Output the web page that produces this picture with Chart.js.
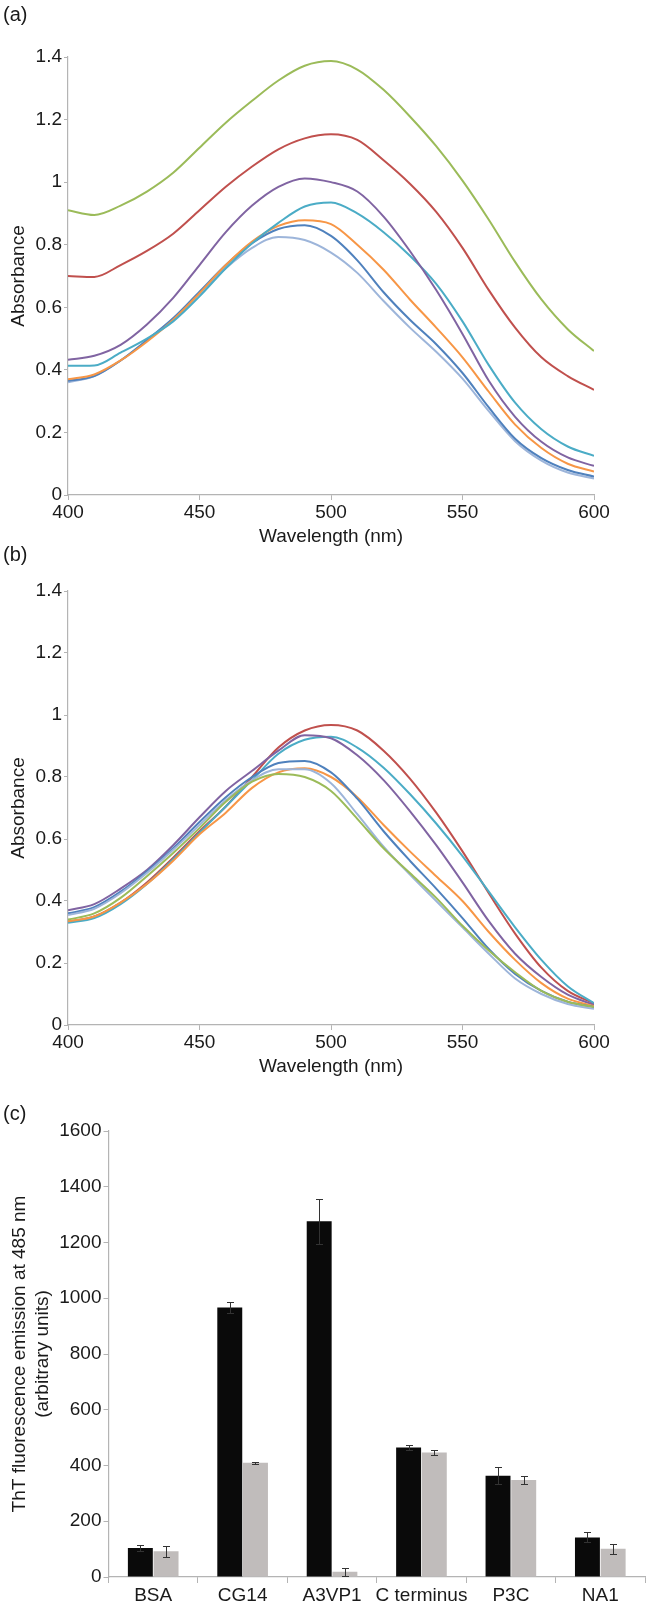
<!DOCTYPE html>
<html>
<head>
    <title>Absorbance spectra and ThT fluorescence</title>
    <script src="https://cdn.jsdelivr.net/npm/chart.js"></script>
    <style>
        body {
            margin: 0;
            background: #fff;
            font-family: "Liberation Sans", Arial, sans-serif;
        }
        .panel {
            position: absolute;
            left: 0;
        }
        .tag {
            position: absolute;
            left: 3px;
            font-size: 20px;
            color: #1a1a1a;
        }
    </style>
</head>
<body>
    <canvas id="chartA" class="panel" style="top:0" width="646" height="550"></canvas>
    <canvas id="chartB" class="panel" style="top:540px" width="646" height="540"></canvas>
    <canvas id="chartC" class="panel" style="top:1090px" width="646" height="517"></canvas>
    <div class="tag" style="top:3px">(a)</div>
    <div class="tag" style="top:543px">(b)</div>
    <div class="tag" style="top:1102px">(c)</div>

    <script>
        // wavelengths (nm) shared by both spectra panels
        const wavelengths = [400, 410, 420, 430, 440, 450, 460, 470, 480, 490, 500,
                             510, 520, 530, 540, 550, 560, 570, 580, 590, 600];

        // panel (a) absorbance
        const aBlue   = [0.365, 0.38, 0.43, 0.495, 0.565, 0.65, 0.735, 0.805, 0.85, 0.862, 0.828, 0.75, 0.648, 0.56, 0.482, 0.39, 0.28, 0.18, 0.118, 0.08, 0.059];
        const aRed    = [0.70, 0.697, 0.735, 0.78, 0.835, 0.91, 0.985, 1.05, 1.105, 1.14, 1.153, 1.135, 1.07, 0.995, 0.905, 0.79, 0.655, 0.535, 0.44, 0.38, 0.336];
        const aGreen  = [0.91, 0.895, 0.925, 0.97, 1.03, 1.11, 1.19, 1.26, 1.325, 1.372, 1.387, 1.36, 1.295, 1.21, 1.115, 1.005, 0.88, 0.745, 0.625, 0.53, 0.46];
        const aPurple = [0.432, 0.445, 0.48, 0.545, 0.63, 0.735, 0.84, 0.925, 0.985, 1.012, 1.0, 0.97, 0.89, 0.78, 0.655, 0.515, 0.365, 0.25, 0.17, 0.12, 0.093];
        const aTeal   = [0.413, 0.414, 0.455, 0.50, 0.555, 0.635, 0.725, 0.805, 0.87, 0.922, 0.935, 0.90, 0.84, 0.765, 0.675, 0.555, 0.415, 0.295, 0.21, 0.155, 0.125];
        const aOrange = [0.37, 0.385, 0.43, 0.49, 0.56, 0.645, 0.735, 0.81, 0.86, 0.878, 0.866, 0.80, 0.72, 0.625, 0.535, 0.44, 0.33, 0.225, 0.15, 0.10, 0.075];
        const aLight  = [0.36, 0.38, 0.43, 0.495, 0.565, 0.645, 0.725, 0.79, 0.825, 0.815, 0.775, 0.71, 0.62, 0.535, 0.458, 0.372, 0.268, 0.172, 0.11, 0.072, 0.053];

        // panel (b) absorbance
        const bBlue   = [0.36, 0.38, 0.43, 0.495, 0.57, 0.655, 0.735, 0.80, 0.845, 0.852, 0.815, 0.73, 0.625, 0.53, 0.44, 0.345, 0.245, 0.165, 0.11, 0.075, 0.058];
        const bRed    = [0.333, 0.35, 0.395, 0.46, 0.54, 0.625, 0.705, 0.80, 0.895, 0.95, 0.968, 0.95, 0.885, 0.795, 0.685, 0.56, 0.425, 0.295, 0.185, 0.11, 0.07];
        const bGreen  = [0.34, 0.36, 0.41, 0.48, 0.555, 0.635, 0.72, 0.785, 0.81, 0.80, 0.755, 0.665, 0.57, 0.49, 0.41, 0.32, 0.24, 0.17, 0.11, 0.075, 0.058];
        const bPurple = [0.37, 0.39, 0.44, 0.50, 0.58, 0.67, 0.755, 0.82, 0.885, 0.935, 0.925, 0.87, 0.79, 0.69, 0.58, 0.46, 0.335, 0.23, 0.155, 0.098, 0.065];
        const bTeal   = [0.33, 0.345, 0.39, 0.455, 0.535, 0.62, 0.705, 0.79, 0.875, 0.92, 0.93, 0.895, 0.83, 0.745, 0.65, 0.545, 0.43, 0.315, 0.21, 0.125, 0.07];
        const bOrange = [0.335, 0.35, 0.395, 0.455, 0.53, 0.615, 0.685, 0.765, 0.815, 0.828, 0.80, 0.735, 0.645, 0.56, 0.48, 0.40, 0.30, 0.21, 0.135, 0.085, 0.061];
        const bLight  = [0.355, 0.375, 0.425, 0.49, 0.565, 0.645, 0.725, 0.79, 0.825, 0.825, 0.78, 0.68, 0.575, 0.485, 0.40, 0.315, 0.23, 0.15, 0.10, 0.068, 0.052];

        const absTicks = [0, 0.2, 0.4, 0.6, 0.8, 1, 1.2, 1.4];

        // panel (c) ThT fluorescence
        const proteins = ['BSA', 'CG14', 'A3VP1', 'C terminus', 'P3C', 'NA1'];
        const blackVals = [104, 967, 1276, 465, 363, 142];
        const blackErr  = [10, 20, 80, 8, 30, 18];
        const greyVals  = [92, 410, 19, 447, 348, 101];
        const greyErr   = [19, 3, 15, 10, 15, 17];

        Chart.defaults.font.family = '"Liberation Sans", Arial, sans-serif';
        Chart.defaults.font.size = 19;
        Chart.defaults.color = '#1a1a1a';

        const axisGrey = '#b4b4b4';

        const colours = {
            blue: '#4f81bd', red: '#c0504d', green: '#9bbb59', purple: '#8064a2',
            teal: '#4bacc6', orange: '#f79646', light: '#9db5da'
        };

        function lineSet(values, colour) {
            return {
                data: wavelengths.map((w, i) => ({x: w, y: values[i]})),
                borderColor: colour,
                borderWidth: 2,
                pointRadius: 0,
                cubicInterpolationMode: 'monotone',
                fill: false
            };
        }

        function spectrumChart(id, sets, padTop) {
            return new Chart(document.getElementById(id), {
                type: 'line',
                data: {datasets: sets},
                options: {
                    responsive: false,
                    animation: false,
                    events: [],
                    layout: {padding: {top: padTop, right: 52, left: 0, bottom: 0}},
                    plugins: {legend: {display: false}, tooltip: {enabled: false}},
                    scales: {
                        x: {
                            type: 'linear',
                            min: 400,
                            max: 600,
                            afterFit: s => { s.height = 55; },
                            ticks: {stepSize: 50, padding: 1},
                            grid: {drawOnChartArea: false, color: axisGrey, tickLength: 5},
                            border: {color: axisGrey, width: 1.2},
                            title: {display: true, text: 'Wavelength (nm)', padding: {top: 0, bottom: 2}}
                        },
                        y: {
                            min: 0,
                            max: 1.4,
                            afterFit: s => { s.width = 68; },
                            afterBuildTicks: s => { s.ticks = absTicks.map(v => ({value: v})); },
                            ticks: {padding: 2, callback: v => String(v)},
                            grid: {drawOnChartArea: false, color: axisGrey, tickLength: 4},
                            border: {color: axisGrey, width: 1.2},
                            title: {display: true, text: 'Absorbance', padding: {top: 7, bottom: 0}}
                        }
                    }
                }
            });
        }

        spectrumChart('chartA', [
            lineSet(aGreen, colours.green),
            lineSet(aRed, colours.red),
            lineSet(aPurple, colours.purple),
            lineSet(aTeal, colours.teal),
            lineSet(aOrange, colours.orange),
            lineSet(aBlue, colours.blue),
            lineSet(aLight, colours.light)
        ], 57);

        spectrumChart('chartB', [
            lineSet(bGreen, colours.green),
            lineSet(bLight, colours.light),
            lineSet(bBlue, colours.blue),
            lineSet(bOrange, colours.orange),
            lineSet(bPurple, colours.purple),
            lineSet(bTeal, colours.teal),
            lineSet(bRed, colours.red)
        ], 51);

        // error bars drawn from each dataset's errors array through the y scale
        const errorBars = {
            id: 'errorBars',
            afterDatasetsDraw(chart) {
                const ctx = chart.ctx;
                const yScale = chart.scales.y;
                chart.data.datasets.forEach((ds, i) => {
                    chart.getDatasetMeta(i).data.forEach((bar, j) => {
                        const v = ds.data[j], e = ds.errors[j];
                        const top = Math.round(yScale.getPixelForValue(v + e)) + 0.5;
                        const bot = Math.round(yScale.getPixelForValue(v - e)) + 0.5;
                        const x = Math.round(bar.x) + 0.5;
                        ctx.save();
                        ctx.strokeStyle = '#333';
                        ctx.lineWidth = 1;
                        ctx.beginPath();
                        ctx.moveTo(x, top); ctx.lineTo(x, bot);
                        ctx.moveTo(x - 3.5, top); ctx.lineTo(x + 3.5, top);
                        ctx.moveTo(x - 3.5, bot); ctx.lineTo(x + 3.5, bot);
                        ctx.stroke();
                        ctx.restore();
                    });
                });
            }
        };

        new Chart(document.getElementById('chartC'), {
            type: 'bar',
            data: {
                labels: proteins,
                datasets: [
                    {data: blackVals, errors: blackErr, backgroundColor: '#0a0a0a'},
                    {data: greyVals, errors: greyErr, backgroundColor: '#c0bcbb'}
                ]
            },
            plugins: [errorBars],
            options: {
                responsive: false,
                animation: false,
                events: [],
                categoryPercentage: 0.575,
                barPercentage: 0.97,
                layout: {padding: {top: 41, right: 1, left: 0, bottom: 0}},
                plugins: {legend: {display: false}, tooltip: {enabled: false}},
                scales: {
                    x: {
                        afterFit: s => { s.height = 30; },
                        ticks: {padding: 1, maxRotation: 0, minRotation: 0, autoSkip: false},
                        grid: {drawOnChartArea: false, color: axisGrey, tickLength: 6},
                        border: {color: axisGrey, width: 1.2}
                    },
                    y: {
                        min: 0,
                        max: 1600,
                        afterFit: s => { s.width = 108.5; },
                        ticks: {stepSize: 200, padding: 2, callback: v => String(v)},
                        grid: {drawOnChartArea: false, color: axisGrey, tickLength: 5},
                        border: {color: axisGrey, width: 1.2},
                        title: {
                            display: true,
                            text: ['ThT fluorescence emission at 485 nm', '(arbitrary units)'],
                            padding: {top: 8.5, bottom: 0}
                        }
                    }
                }
            }
        });
    </script>
</body>
</html>
